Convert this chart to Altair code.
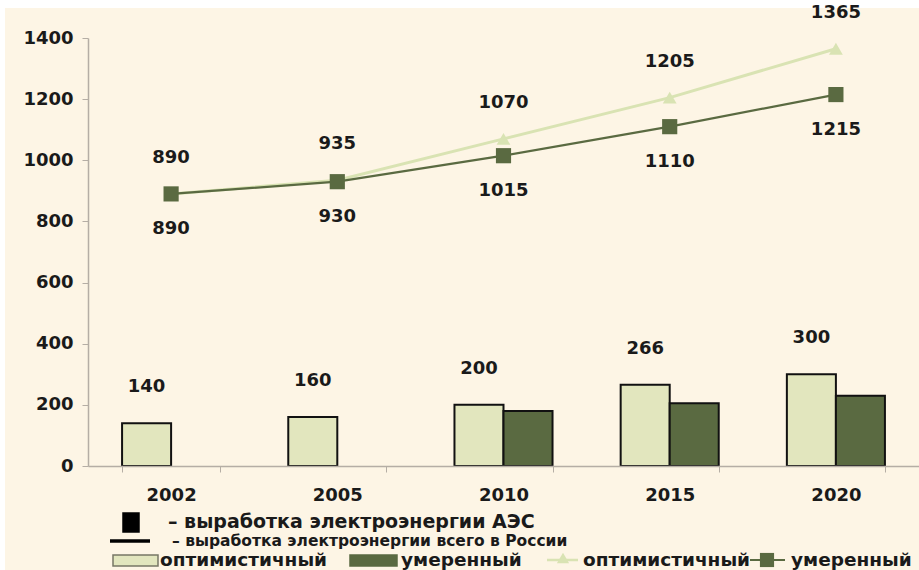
import altair as alt
import pandas as pd

# Electricity generation forecast for Russia, billion kWh
years = ["2002", "2005", "2010", "2015", "2020"]
scenarios = ["оптимистичный", "умеренный"]

# Nuclear plants (АЭС) output, bars
aes_optimistic = [140, 160, 200, 266, 300]
aes_moderate = [None, None, 180, 205, 230]

# Total generation in Russia, lines
total_optimistic = [890, 935, 1070, 1205, 1365]
total_moderate = [890, 930, 1015, 1110, 1215]

y_ticks = [0, 200, 400, 600, 800, 1000, 1200, 1400]

legend_row1 = "– выработка электроэнергии АЭС"
legend_row2 = "– выработка электроэнергии всего в России"

FONT = "DejaVu Sans"
BG = "#FDF5E5"
LIGHT = "#E2E6BE"
DARK = "#5A6A41"
PALE = "#D9E3B3"
AXIS = "#B5AEA5"

bars = pd.DataFrame(
    [{"year": y, "scenario": scenarios[0], "value": v} for y, v in zip(years, aes_optimistic)]
    + [{"year": y, "scenario": scenarios[1], "value": v}
       for y, v in zip(years, aes_moderate) if v is not None]
)
lines = pd.DataFrame(
    [{"year": y, "scenario": scenarios[0], "value": v} for y, v in zip(years, total_optimistic)]
    + [{"year": y, "scenario": scenarios[1], "value": v} for y, v in zip(years, total_moderate)]
)

x_enc = alt.X(
    "year:N",
    sort=years,
    scale=alt.Scale(paddingInner=0.41, paddingOuter=0.205),
    axis=alt.Axis(
        title=None, labelAngle=0, labelFont=FONT, labelFontWeight="bold",
        labelFontSize=18, labelColor="#1a1a1a", labelPadding=14,
        domainColor=AXIS, domainWidth=1.5, tickColor=AXIS,
        tickSize=6, tickBand="extent", grid=False, zindex=1,
    ),
)
y_enc = alt.Y(
    "value:Q",
    scale=alt.Scale(domain=[0, 1400], nice=False),
    axis=alt.Axis(
        title=None, values=y_ticks, format="d", labelFont=FONT, labelFontWeight="bold",
        labelFontSize=18, labelColor="#1a1a1a", labelPadding=9,
        domainColor=AXIS, domainWidth=1.5, tickColor=AXIS,
        tickSize=6, grid=False, zindex=1,
    ),
)
offset_enc = alt.XOffset("scenario:N", sort=scenarios)

one = pd.DataFrame({"k": [0]})

# cream panel behind the whole chart
panel = alt.Chart(one).mark_rect(color=BG).encode(
    x=alt.value(-83), x2=alt.value(831), y=alt.value(-30), y2=alt.value(532)
)

bar_layer = alt.Chart(bars).mark_bar(stroke="#111111", strokeWidth=2).encode(
    x=x_enc,
    xOffset=offset_enc,
    y=y_enc,
    color=alt.Color("scenario:N", sort=scenarios,
                    scale=alt.Scale(domain=scenarios, range=[LIGHT, DARK]), legend=None),
)

bar_labels = alt.Chart(bars[bars.scenario == scenarios[0]]).mark_text(
    font=FONT, fontWeight="bold", fontSize=18, color="#1a1a1a", dy=-36, baseline="middle"
).encode(x=x_enc, xOffset=offset_enc, y=y_enc, text=alt.Text("value:Q", format="d"))

opt_lines = lines[lines.scenario == scenarios[0]]
mod_lines = lines[lines.scenario == scenarios[1]]

opt_line = alt.Chart(opt_lines).mark_line(color=PALE, strokeWidth=3).encode(x=x_enc, y=y_enc)
opt_pts = alt.Chart(opt_lines).mark_point(
    shape="triangle-up", filled=True, color=PALE, size=190, opacity=1
).encode(x=x_enc, y=y_enc)
mod_line = alt.Chart(mod_lines).mark_line(color=DARK, strokeWidth=2.2).encode(x=x_enc, y=y_enc)
mod_pts = alt.Chart(mod_lines).mark_point(
    shape="square", filled=True, color=DARK, size=230, opacity=1
).encode(x=x_enc, y=y_enc)

opt_text = alt.Chart(opt_lines).mark_text(
    font=FONT, fontWeight="bold", fontSize=18, color="#1a1a1a", dy=-36, baseline="middle"
).encode(x=x_enc, y=y_enc, text=alt.Text("value:Q", format="d"))
mod_text = alt.Chart(mod_lines).mark_text(
    font=FONT, fontWeight="bold", fontSize=18, color="#1a1a1a", dy=35, baseline="middle"
).encode(x=x_enc, y=y_enc, text=alt.Text("value:Q", format="d"))

# hand-built legend under the x axis
def legend_text(label, x, y, size):
    return alt.Chart(pd.DataFrame({"t": [label]})).mark_text(
        font=FONT, fontWeight="bold", fontSize=size, color="#1a1a1a",
        align="left", baseline="middle",
    ).encode(x=alt.value(x), y=alt.value(y), text="t:N")

def legend_box(x, x2, y, y2, fill, stroke):
    return alt.Chart(one).mark_rect(fill=fill, stroke=stroke, strokeWidth=1.5).encode(
        x=alt.value(x), x2=alt.value(x2), y=alt.value(y), y2=alt.value(y2)
    )

def legend_rule(x, x2, y, color, width):
    return alt.Chart(one).mark_rule(color=color, strokeWidth=width).encode(
        x=alt.value(x), x2=alt.value(x2), y=alt.value(y)
    )

def legend_marker(x, y, shape, color, size):
    return alt.Chart(one).mark_point(
        shape=shape, filled=True, color=color, size=size, opacity=1
    ).encode(x=alt.value(x), y=alt.value(y))

legend = [
    legend_box(35, 51, 475, 494, "#000000", "#000000"),
    legend_text(legend_row1, 80, 484, 19),
    legend_rule(22, 62, 503, "#000000", 3.5),
    legend_text(legend_row2, 84, 503, 15.5),
    legend_box(25, 70, 517, 528, LIGHT, "#777766"),
    legend_text(scenarios[0], 72, 522, 18.5),
    legend_box(262, 309, 517, 528, DARK, DARK),
    legend_text(scenarios[1], 313, 522, 18.5),
    legend_rule(459, 490, 522, PALE, 2.5),
    legend_marker(475, 520, "triangle-up", PALE, 150),
    legend_text(scenarios[0], 495, 522, 18.5),
    legend_rule(662, 697, 522, DARK, 2),
    legend_marker(679, 522, "square", DARK, 200),
    legend_text(scenarios[1], 703, 522, 18.5),
]

chart = alt.layer(
    panel, bar_layer, bar_labels, opt_line, mod_line, opt_pts, mod_pts, opt_text, mod_text,
    *legend,
).properties(
    width=831, height=428,
    padding={"left": 88, "top": 38, "right": 0, "bottom": 104},
    autosize=alt.AutoSizeParams(type="none"),
).configure(background="white").configure_view(stroke=None)

chart.save("out.html", embed_options={"renderer": "svg", "actions": False})
